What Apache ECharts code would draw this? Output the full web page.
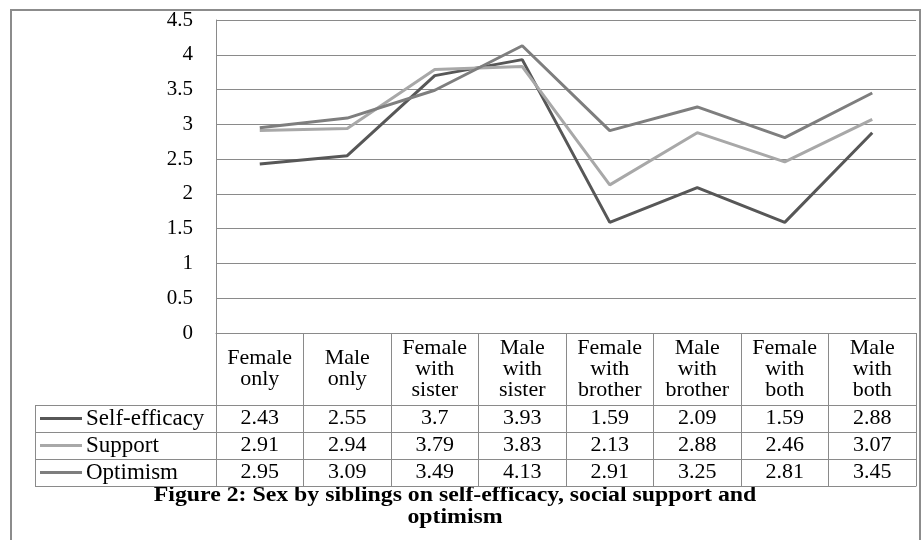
<!DOCTYPE html>
<html>
<head>
<meta charset="utf-8">
<script src="https://cdn.jsdelivr.net/npm/echarts@6/dist/echarts.min.js"></script>
<style>html,body{margin:0;padding:0;background:#fff}#c{width:922px;height:540px}</style>
</head>
<body>
<div id="c"></div>
<script>
var categories = ['Female\nonly', 'Male\nonly', 'Female\nwith\nsister', 'Male\nwith\nsister', 'Female\nwith\nbrother', 'Male\nwith\nbrother', 'Female\nwith\nboth', 'Male\nwith\nboth'];
var seriesNames = ['Self-efficacy', 'Support', 'Optimism'];
var selfEfficacy = [2.43, 2.55, 3.7, 3.93, 1.59, 2.09, 1.59, 2.88];
var support = [2.91, 2.94, 3.79, 3.83, 2.13, 2.88, 2.46, 3.07];
var optimism = [2.95, 3.09, 3.49, 4.13, 2.91, 3.25, 2.81, 3.45];
var yTicks = { min: 0, max: 4.5, interval: 0.5 };
var captionLine1 = 'Figure 2: Sex by siblings on self-efficacy, social support and';
var captionLine2 = 'optimism';

var FONT = '"Liberation Serif", "Times New Roman", serif';
var GRID = '#8a8a8a';
var colors = ['#575757', '#a8a8a8', '#7e7e7e'];
var values = [selfEfficacy, support, optimism];

var rowH = 27;
var headerH = 72;
var TFS = 22;

function rowAxis(i) {
  return {
    type: 'category', gridIndex: 0, position: 'bottom',
    data: values[i].map(function (v) { return String(v); }),
    offset: headerH + rowH * i,
    boundaryGap: true,
    axisLine: { show: true, lineStyle: { color: GRID, width: 1 } },
    axisTick: { show: false },
    axisLabel: { show: true, interval: 0, margin: rowH / 2, verticalAlign: 'middle',
      fontFamily: FONT, fontSize: TFS, color: '#000' }
  };
}

var xAxes = [{
  type: 'category', gridIndex: 0, position: 'bottom', data: categories,
  boundaryGap: true,
  axisLine: { show: true, lineStyle: { color: GRID, width: 1 } },
  axisTick: { show: true, interval: 0, alignWithLabel: false, inside: false,
    length: headerH + rowH * 3, lineStyle: { color: GRID, width: 1 } },
  axisLabel: { show: true, interval: 0, margin: headerH / 2, verticalAlign: 'middle',
    lineHeight: 21, fontFamily: FONT, fontSize: TFS, color: '#000' }
}];
for (var i = 0; i < 3; i++) xAxes.push(rowAxis(i));
xAxes.push({
  type: 'category', gridIndex: 0, position: 'bottom', data: categories,
  offset: headerH + rowH * 3, boundaryGap: true,
  axisLine: { show: true, lineStyle: { color: GRID, width: 1 } },
  axisTick: { show: false }, axisLabel: { show: false }
});

var gridLeft = 216, gridTop = 20, gridW = 700, gridH = 313;
var tableTop = gridTop + gridH + headerH;
var legendLeft = 35;

var graphics = [
  { type: 'rect', shape: { x: 11, y: 10, width: 909, height: 560 }, style: { fill: 'none', stroke: '#8c8c8c', lineWidth: 2 }, silent: true },
  { type: 'line', shape: { x1: legendLeft + 0.5, y1: tableTop, x2: legendLeft + 0.5, y2: tableTop + rowH * 3 }, style: { stroke: GRID, lineWidth: 1 } },
  { type: 'text', x: 455, y: 486, scaleX: 1.19, style: { text: captionLine1, align: 'center', verticalAlign: 'top', font: 'bold 20px ' + FONT, fill: '#000' } },
  { type: 'text', x: 455, y: 508, scaleX: 1.19, style: { text: captionLine2, align: 'center', verticalAlign: 'top', font: 'bold 20px ' + FONT, fill: '#000' } }
];
for (var r = 0; r <= 3; r++) {
  graphics.push({ type: 'line', shape: { x1: legendLeft, y1: tableTop + rowH * r + 0.5, x2: gridLeft, y2: tableTop + rowH * r + 0.5 }, style: { stroke: GRID, lineWidth: 1 } });
}

var option = {
  animation: false,
  backgroundColor: '#fff',
  legend: {
    orient: 'vertical', left: legendLeft + 5, top: tableTop, padding: 0, itemGap: 0,
    icon: 'rect', itemWidth: 42, itemHeight: 3,
    data: seriesNames,
    textStyle: { fontFamily: FONT, fontSize: 23, color: '#000', lineHeight: rowH, padding: [0, 0, 0, -1] }
  },
  grid: { left: gridLeft, top: gridTop, width: gridW, height: gridH, containLabel: false },
  xAxis: xAxes,
  yAxis: {
    type: 'value', min: yTicks.min, max: yTicks.max, interval: yTicks.interval,
    axisLine: { show: true, lineStyle: { color: GRID, width: 1 } },
    axisTick: { show: false },
    splitLine: { show: true, lineStyle: { color: GRID, width: 1 } },
    axisLabel: { margin: 23, fontFamily: FONT, fontSize: 21, color: '#000' }
  },
  series: seriesNames.map(function (n, i) {
    return { name: n, type: 'line', xAxisIndex: 0, data: values[i], symbol: 'none',
      lineStyle: { color: colors[i], width: 3 }, itemStyle: { color: colors[i] } };
  }),
  graphic: graphics
};

var chart = echarts.init(document.getElementById('c'), null, { renderer: 'canvas' });
chart.setOption(option);
</script>
</body>
</html>
